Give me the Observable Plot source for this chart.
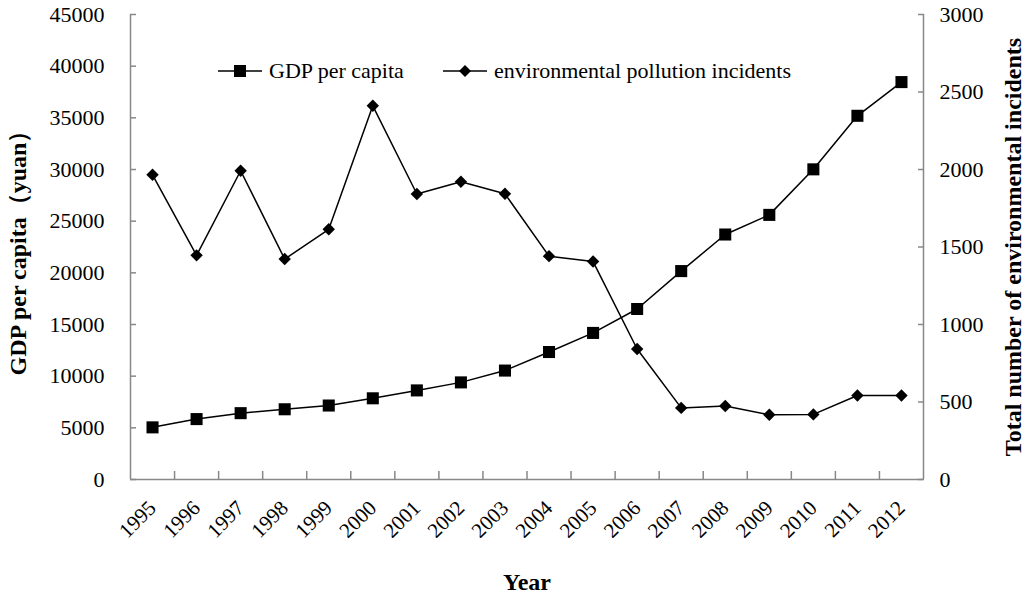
<!DOCTYPE html>
<html>
<head>
<meta charset="utf-8">
<script src="https://cdn.jsdelivr.net/npm/d3@7"></script>
<script src="https://cdn.jsdelivr.net/npm/@observablehq/plot@0.6"></script>
<style>
  body { margin: 0; background: #fff; font-family: "Liberation Serif", "Times New Roman", serif; color: #000; }
  #wrap { position: relative; width: 1024px; height: 595px; }
  .legend-item { position: absolute; display: flex; align-items: center; font-size: 22px; height: 26px; white-space: nowrap; }
  .legend-item svg { margin-right: 5px; }
  #chart svg g[aria-label$="axis label"] { font-weight: bold; font-size: 24px; }
</style>
</head>
<body>
<div id="wrap">
  <div id="chart"></div>
  <div class="legend-item" style="left:216px; top:58px;">
    <svg width="48" height="20"><line x1="2" y1="10" x2="46" y2="10" stroke="#000" stroke-width="1.5"/><rect x="18" y="4" width="12" height="12" fill="#000"/></svg>
    <span>GDP per capita</span>
  </div>
  <div class="legend-item" style="left:441px; top:58px;">
    <svg width="48" height="20"><line x1="2" y1="10" x2="46" y2="10" stroke="#000" stroke-width="1.5"/><path d="M24,4L30,10L24,16L18,10Z" fill="#000"/></svg>
    <span>environmental pollution incidents</span>
  </div>
</div>
<script>
const years = [1995, 1996, 1997, 1998, 1999, 2000, 2001, 2002, 2003, 2004, 2005, 2006, 2007, 2008, 2009, 2010, 2011, 2012];
const gdpPerCapita = [5046, 5846, 6420, 6796, 7159, 7858, 8622, 9398, 10542, 12336, 14185, 16500, 20169, 23708, 25608, 30015, 35198, 38459];
const pollutionIncidents = [1966, 1446, 1992, 1422, 1614, 2411, 1842, 1921, 1843, 1441, 1406, 842, 462, 474, 418, 420, 542, 542];
const leftTicks = [0, 5000, 10000, 15000, 20000, 25000, 30000, 35000, 40000, 45000];
const rightTicks = [0, 500, 1000, 1500, 2000, 2500, 3000];

// incidents are drawn on the GDP scale, the right axis relabels them
const ratio = 45000 / 3000;
const gray = "#888";

const data = years.map((year, i) => ({year, gdp: gdpPerCapita[i], incidents: pollutionIncidents[i]}));
const xDomain = [years[0] - 0.5, years[years.length - 1] + 0.5];
const boundaries = years.slice(1).map(y => y - 0.5);

const chart = Plot.plot({
  width: 1024,
  height: 595,
  marginLeft: 130,
  marginRight: 101,
  marginTop: 14,
  marginBottom: 116,
  style: {fontFamily: "'Liberation Serif', 'Times New Roman', serif", fontSize: "21px", background: "#fff", color: "#000"},
  x: {type: "linear", domain: xDomain, axis: null},
  y: {domain: [0, 45000], axis: null},
  marks: [
    Plot.ruleY([0], {stroke: gray, strokeWidth: 1.5}),
    Plot.ruleX(xDomain, {stroke: gray, strokeWidth: 1.5}),
    Plot.axisX(boundaries, {tickSize: 8, dy: -8, tickFormat: () => "", label: null, stroke: gray, strokeWidth: 1.5}),
    Plot.axisX(years, {tickSize: 0, tickRotate: -45, tickPadding: 25, fontSize: 21, tickFormat: d => String(d),
      label: "Year", labelAnchor: "center", labelOffset: 110, labelArrow: "none"}),
    Plot.axisY(leftTicks, {anchor: "left", tickSize: 6, dx: 6, tickFormat: () => "", label: null, stroke: gray, strokeWidth: 1.5}),
    Plot.axisY(leftTicks, {anchor: "left", tickSize: 0, tickPadding: 26, fontSize: 22, tickFormat: d => String(d),
      label: "GDP per capita（yuan）", labelAnchor: "center", labelOffset: 122, labelArrow: "none"}),
    Plot.axisY(rightTicks.map(v => v * ratio), {anchor: "right", tickSize: 6, dx: -6, tickFormat: () => "", label: null, stroke: gray, strokeWidth: 1.5}),
    Plot.axisY(rightTicks.map(v => v * ratio), {anchor: "right", tickSize: 0, tickPadding: 16, fontSize: 22, tickFormat: d => String(d / ratio),
      label: "Total number of environmental incidents", labelAnchor: "center", labelOffset: 97, labelArrow: "none"}),
    Plot.line(data, {x: "year", y: "gdp", stroke: "#000", strokeWidth: 1.5}),
    Plot.dot(data, {x: "year", y: "gdp", symbol: "square", r: 6.8, fill: "#000", stroke: null}),
    Plot.line(data, {x: "year", y: d => d.incidents * ratio, stroke: "#000", strokeWidth: 1.5}),
    Plot.dot(data, {x: "year", y: d => d.incidents * ratio, symbol: "diamond2", r: 5.6, fill: "#000", stroke: null})
  ]
});
d3.select("#chart").append(() => chart);
</script>
</body>
</html>
